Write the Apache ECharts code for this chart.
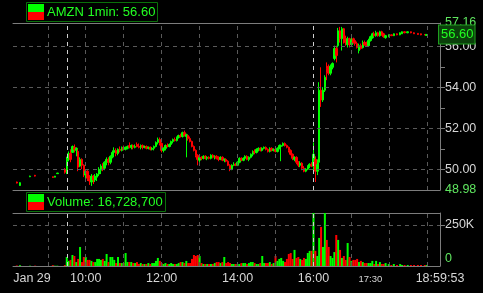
<!DOCTYPE html>
<html>
<head>
<meta charset="utf-8">
<script src="https://cdn.jsdelivr.net/npm/echarts@6.0.0/dist/echarts.min.js"></script>
<style>
html,body{margin:0;padding:0;background:#000;}
#c{width:483px;height:293px;}
</style>
</head>
<body>
<div id="c"></div>
<script>
// rows: [time, open, close, low, high, volume (thousands)]
const preMarket = [
  ['08:11', 49.37, 49.32, 49.30, 49.39, 3],
  ['08:16', 49.20, 49.34, 49.18, 49.36, 5],
  ['08:32', 49.63, 49.66, 49.61, 49.68, 2],
  ['08:40', 49.70, 49.66, 49.64, 49.72, 2],
  ['09:08', 49.63, 49.59, 49.57, 49.64, 5],
  ['09:11', 49.61, 49.66, 49.60, 49.67, 2],
  ['09:15', 49.78, 49.81, 49.77, 49.82, 2],
  ['09:27', 50.00, 49.85, 49.78, 50.05, 6]
];
const morning = [
  ['09:30', 49.90, 50.48, 49.76, 50.61, 55],
  ['09:33', 50.48, 50.77, 50.39, 50.87, 31],
  ['09:36', 50.77, 50.48, 50.34, 50.97, 37],
  ['09:39', 50.82, 51.11, 50.82, 51.16, 67],
  ['09:42', 51.07, 50.97, 50.82, 51.21, 61],
  ['09:45', 50.92, 51.02, 50.63, 51.07, 24],
  ['09:48', 50.87, 50.10, 49.90, 50.97, 43],
  ['09:51', 50.15, 50.48, 50.10, 50.58, 116],
  ['09:54', 50.48, 50.19, 50.00, 50.53, 24],
  ['09:57', 50.19, 49.81, 49.61, 50.24, 55],
  ['10:00', 49.71, 49.90, 49.52, 50.00, 55],
  ['10:03', 49.90, 49.56, 49.42, 49.95, 37],
  ['10:06', 49.56, 49.42, 49.23, 49.71, 37],
  ['10:09', 49.37, 49.66, 49.18, 49.76, 31],
  ['10:12', 49.66, 49.47, 49.27, 49.71, 24],
  ['10:15', 49.47, 49.66, 49.37, 49.76, 24],
  ['10:18', 49.61, 49.76, 49.42, 49.81, 43],
  ['10:21', 49.76, 50.00, 49.66, 50.10, 43],
  ['10:24', 49.95, 50.15, 49.76, 50.24, 37],
  ['10:27', 50.15, 50.00, 49.90, 50.29, 43],
  ['10:30', 50.05, 50.34, 49.95, 50.39, 31],
  ['10:33', 50.34, 50.48, 50.19, 50.58, 73],
  ['10:36', 50.48, 50.34, 50.19, 50.58, 24],
  ['10:39', 50.34, 50.63, 50.24, 50.68, 55],
  ['10:42', 50.63, 50.82, 50.53, 50.92, 55],
  ['10:45', 50.82, 50.92, 50.58, 51.07, 37],
  ['10:48', 50.92, 50.77, 50.63, 51.02, 18],
  ['10:51', 50.77, 50.97, 50.68, 51.02, 55],
  ['10:54', 50.97, 50.92, 50.82, 51.11, 18],
  ['10:57', 50.92, 51.07, 50.87, 51.11, 18],
  ['11:00', 51.07, 50.97, 50.92, 51.16, 18],
  ['11:03', 50.97, 51.07, 50.92, 51.11, 79],
  ['11:06', 51.02, 51.11, 50.97, 51.16, 24],
  ['11:09', 51.16, 51.07, 51.02, 51.31, 24],
  ['11:12', 51.07, 51.16, 50.97, 51.21, 24],
  ['11:15', 51.16, 51.07, 50.97, 51.21, 18],
  ['11:18', 51.07, 51.11, 51.02, 51.21, 18],
  ['11:21', 51.21, 51.11, 51.07, 51.31, 24],
  ['11:24', 51.11, 51.07, 51.02, 51.26, 12],
  ['11:27', 51.07, 51.16, 50.97, 51.21, 18],
  ['11:30', 51.16, 51.07, 50.97, 51.21, 12],
  ['11:33', 51.07, 51.11, 51.02, 51.16, 12],
  ['11:36', 51.11, 51.02, 50.97, 51.16, 12],
  ['11:39', 51.02, 51.07, 50.97, 51.11, 18],
  ['11:42', 51.07, 50.97, 50.92, 51.11, 12],
  ['11:45', 50.97, 51.02, 50.92, 51.07, 18],
  ['11:48', 51.02, 51.11, 50.92, 51.16, 18],
  ['11:51', 51.11, 51.31, 51.07, 51.36, 31],
  ['11:54', 51.31, 51.45, 51.21, 51.55, 49],
  ['11:57', 51.45, 51.26, 51.16, 51.55, 31]
];
const midday = [
  ['12:00', 51.26, 50.92, 50.82, 51.31, 18],
  ['12:03', 50.92, 51.02, 50.82, 51.07, 12],
  ['12:06', 51.02, 51.16, 50.92, 51.21, 18],
  ['12:09', 51.16, 51.11, 51.07, 51.26, 12],
  ['12:12', 51.11, 51.21, 51.07, 51.26, 12],
  ['12:15', 51.21, 51.36, 51.16, 51.40, 18],
  ['12:18', 51.36, 51.45, 51.26, 51.50, 12],
  ['12:21', 51.45, 51.40, 51.36, 51.55, 12],
  ['12:24', 51.40, 51.55, 51.36, 51.60, 12],
  ['12:27', 51.55, 51.65, 51.50, 51.69, 18],
  ['12:30', 51.65, 51.60, 51.55, 51.74, 24],
  ['12:33', 51.60, 51.79, 51.55, 51.84, 24],
  ['12:36', 51.79, 51.65, 51.60, 51.89, 18],
  ['12:39', 51.60, 51.69, 50.58, 51.74, 31],
  ['12:42', 51.65, 51.50, 51.40, 51.69, 18],
  ['12:45', 51.50, 51.36, 51.31, 51.60, 18],
  ['12:48', 51.36, 51.11, 51.07, 51.40, 43],
  ['12:51', 51.11, 50.92, 50.87, 51.16, 67],
  ['12:54', 50.92, 50.68, 50.58, 50.97, 61],
  ['12:57', 50.68, 50.48, 50.19, 50.73, 67],
  ['13:00', 50.44, 50.58, 50.24, 50.63, 61],
  ['13:03', 50.58, 50.53, 50.44, 50.63, 18],
  ['13:06', 50.53, 50.63, 50.48, 50.68, 12],
  ['13:09', 50.63, 50.53, 50.48, 50.68, 12],
  ['13:12', 50.53, 50.58, 50.44, 50.63, 12],
  ['13:15', 50.58, 50.53, 50.48, 50.63, 12],
  ['13:18', 50.53, 50.68, 50.48, 50.73, 12],
  ['13:21', 50.68, 50.58, 50.53, 50.73, 12],
  ['13:24', 50.58, 50.63, 50.48, 50.68, 18],
  ['13:27', 50.63, 50.53, 50.48, 50.68, 24],
  ['13:30', 50.58, 50.48, 50.39, 50.63, 24],
  ['13:33', 50.48, 50.58, 50.44, 50.63, 18],
  ['13:36', 50.58, 50.44, 50.39, 50.63, 24],
  ['13:39', 50.44, 50.48, 50.34, 50.53, 55],
  ['13:42', 50.48, 50.39, 50.34, 50.53, 18],
  ['13:45', 50.39, 50.19, 50.15, 50.44, 24],
  ['13:48', 50.19, 50.00, 49.90, 50.24, 18],
  ['13:51', 50.00, 50.19, 49.95, 50.24, 12],
  ['13:54', 50.19, 50.24, 50.15, 50.34, 12],
  ['13:57', 50.24, 50.19, 50.15, 50.29, 12]
];
const afternoon = [
  ['14:00', 50.19, 50.34, 50.15, 50.39, 12],
  ['14:03', 50.34, 50.53, 50.29, 50.58, 12],
  ['14:06', 50.53, 50.44, 50.39, 50.58, 18],
  ['14:09', 50.44, 50.53, 50.39, 50.58, 18],
  ['14:12', 50.53, 50.63, 50.44, 50.68, 18],
  ['14:15', 50.63, 50.48, 50.44, 50.68, 12],
  ['14:18', 50.48, 50.58, 50.39, 50.63, 18],
  ['14:21', 50.58, 50.73, 50.53, 50.77, 24],
  ['14:24', 50.73, 50.87, 50.63, 50.92, 24],
  ['14:27', 50.87, 50.82, 50.73, 50.97, 18],
  ['14:30', 50.82, 50.97, 50.77, 51.02, 12],
  ['14:33', 50.97, 51.02, 50.87, 51.07, 12],
  ['14:36', 51.02, 50.92, 50.87, 51.07, 18],
  ['14:39', 50.92, 51.02, 50.87, 51.07, 61],
  ['14:42', 51.02, 51.07, 50.97, 51.11, 18],
  ['14:45', 51.07, 50.97, 50.92, 51.11, 18],
  ['14:48', 50.97, 50.87, 50.82, 51.02, 18],
  ['14:51', 50.87, 51.02, 50.82, 51.07, 24],
  ['14:54', 51.02, 50.92, 50.87, 51.07, 12],
  ['14:57', 50.92, 50.97, 50.87, 51.02, 18],
  ['15:00', 50.97, 50.87, 50.82, 51.02, 61],
  ['15:03', 50.87, 51.02, 50.82, 51.07, 31],
  ['15:06', 51.02, 51.16, 50.97, 51.21, 43],
  ['15:09', 51.11, 51.16, 50.39, 51.21, 49],
  ['15:12', 51.16, 51.26, 51.11, 51.31, 31],
  ['15:15', 51.26, 51.16, 51.11, 51.31, 24],
  ['15:18', 51.16, 51.07, 51.02, 51.21, 43],
  ['15:21', 51.07, 50.92, 50.82, 51.11, 73],
  ['15:24', 50.92, 50.73, 50.68, 50.97, 79],
  ['15:27', 50.73, 50.53, 50.44, 50.77, 43],
  ['15:30', 50.48, 50.58, 50.39, 50.63, 98],
  ['15:33', 50.58, 50.34, 50.24, 50.63, 49],
  ['15:36', 50.34, 50.19, 50.10, 50.39, 55],
  ['15:39', 50.19, 50.29, 50.10, 50.39, 43],
  ['15:42', 50.29, 50.05, 49.95, 50.34, 37],
  ['15:45', 50.05, 49.90, 49.85, 50.15, 49],
  ['15:48', 49.90, 50.00, 49.85, 50.05, 43],
  ['15:51', 50.00, 50.15, 49.95, 50.19, 79],
  ['15:54', 50.15, 50.24, 50.05, 50.29, 92],
  ['15:57', 50.24, 50.15, 50.10, 50.34, 92]
];
const afterHours = [
  ['16:00', 50.15, 50.73, 49.85, 51.31, 323],
  ['16:03', 50.48, 49.90, 49.37, 50.63, 92],
  ['16:06', 49.90, 50.24, 49.71, 50.48, 61],
  ['16:09', 50.34, 53.87, 50.10, 54.26, 171],
  ['16:12', 53.87, 53.39, 53.05, 54.99, 238],
  ['16:15', 53.39, 53.87, 53.29, 54.02, 116],
  ['16:18', 53.87, 54.50, 53.78, 54.60, 323],
  ['16:21', 54.94, 54.75, 54.36, 55.23, 159],
  ['16:24', 55.04, 54.70, 54.60, 55.13, 116],
  ['16:27', 54.70, 55.04, 54.60, 55.13, 61],
  ['16:30', 54.99, 55.18, 54.89, 55.23, 49],
  ['16:33', 55.42, 55.91, 55.33, 56.05, 85],
  ['16:36', 55.91, 55.57, 55.23, 56.05, 189],
  ['16:39', 56.05, 56.78, 55.96, 56.92, 159],
  ['16:42', 56.78, 56.39, 56.20, 56.97, 98],
  ['16:45', 56.39, 56.88, 55.81, 56.97, 49],
  ['16:48', 56.88, 56.39, 56.15, 56.92, 61],
  ['16:51', 56.39, 56.20, 56.05, 56.54, 37],
  ['16:54', 56.10, 56.39, 55.96, 56.49, 140],
  ['16:57', 56.39, 56.10, 55.96, 56.44, 55],
  ['17:00', 56.10, 56.34, 56.05, 56.44, 31],
  ['17:03', 56.39, 56.20, 56.15, 56.44, 37],
  ['17:06', 56.30, 56.15, 56.05, 56.34, 37],
  ['17:09', 56.15, 55.96, 55.91, 56.25, 43],
  ['17:12', 55.81, 56.05, 55.67, 56.15, 24],
  ['17:15', 56.05, 55.91, 55.86, 56.15, 31],
  ['17:18', 55.96, 56.20, 55.91, 56.30, 24],
  ['17:21', 56.20, 56.10, 56.05, 56.30, 18],
  ['17:24', 56.20, 56.05, 56.00, 56.25, 18],
  ['17:27', 56.05, 56.30, 56.00, 56.39, 18],
  ['17:30', 56.30, 56.49, 56.25, 56.54, 18],
  ['17:33', 56.44, 56.63, 56.39, 56.68, 31],
  ['17:36', 56.63, 56.54, 56.49, 56.73, 12],
  ['17:39', 56.54, 56.68, 56.49, 56.78, 31],
  ['17:42', 56.68, 56.54, 56.49, 56.73, 12],
  ['17:45', 56.54, 56.73, 56.49, 56.78, 24],
  ['17:48', 56.73, 56.58, 56.54, 56.78, 12],
  ['17:51', 56.63, 56.49, 56.44, 56.68, 12],
  ['17:54', 56.44, 56.54, 56.39, 56.58, 18]
];
const evening = [
  ['17:59', 56.49, 56.58, 56.46, 56.60, 12],
  ['18:03', 56.58, 56.54, 56.52, 56.60, 6],
  ['18:07', 56.54, 56.63, 56.52, 56.65, 12],
  ['18:12', 56.63, 56.58, 56.56, 56.65, 6],
  ['18:17', 56.58, 56.68, 56.56, 56.70, 12],
  ['18:20', 56.63, 56.73, 56.62, 56.75, 6],
  ['18:24', 56.73, 56.68, 56.66, 56.75, 6],
  ['18:29', 56.68, 56.73, 56.66, 56.75, 6],
  ['18:34', 56.73, 56.68, 56.66, 56.74, 6],
  ['18:39', 56.68, 56.63, 56.62, 56.70, 6],
  ['18:45', 56.65, 56.60, 56.58, 56.66, 6],
  ['18:50', 56.63, 56.58, 56.56, 56.64, 6],
  ['18:56', 56.60, 56.58, 56.56, 56.62, 6],
  ['18:59', 56.55, 56.60, 56.54, 56.62, 6]
];

const xStart = '08:05';
const xEnd = '19:20';
const xLabelAt = ['08:35', '10:00', '12:00', '14:00', '16:00', '17:30', '19:20'];
const xLabels = ['Jan 29', '10:00', '12:00', '14:00', '16:00', '17:30', '18:59:53'];
const hourGrid = ['09:00', '10:00', '11:00', '12:00', '13:00', '14:00', '15:00', '17:00', '18:00', '19:00'];
const sessionLines = ['09:30', '16:00'];

const priceMin = 48.98, priceMax = 57.16;
const priceLabels = [48.98, 50, 52, 54, 56, 57.16];
const priceTicks = [50, 51, 52, 53, 54, 55, 56];
const priceGrid = [50, 52, 54, 56];
const lastPrice = 56.60;

const volMax = 323;
const volLabels = [0, 250];
const volGrid = [250];

const titlePrice = 'AMZN 1min: 56.60';
const titleVolume = 'Volume: 16,728,700';

// ---------------------------------------------------------------
const UP = '#00ff00', DOWN = '#ff0000';
const GRIDC = '#5a5a5a', AXISC = '#7c7c7c', LABELC = '#d6d6d6', LGREEN = '#5fe65f';
const FONT = '"Liberation Sans", Arial, sans-serif';
function toMin(s) { const p = s.split(':'); return +p[0] * 60 + (+p[1]); }
function near(a, b) { return Math.abs(a - b) < 1e-6; }

const rows = [].concat(preMarket, morning, midday, afternoon, afterHours, evening);
const candleData = rows.map(r => [toMin(r[0]), r[1], r[2], r[3], r[4]]);
const volumeData = rows.map(r => ({ value: [toMin(r[0]), r[5]], itemStyle: { color: r[2] >= r[1] ? UP : DOWN } }));

const xMin = toMin(xStart), xMax = toMin(xEnd);
const xLabelMins = xLabelAt.map(toMin);

function xAxisBase(grid, pos, withLabels) {
  return {
    type: 'value', gridIndex: grid, min: xMin, max: xMax, position: pos,
    axisLine: { show: true, onZero: false, lineStyle: { color: AXISC, width: 1 } },
    axisTick: { show: false }, splitLine: { show: false },
    axisLabel: withLabels ? {
      show: true, customValues: xLabelMins, color: LABELC, fontSize: 12.5, fontFamily: FONT, margin: 6,
      formatter: function (v) {
        let i = -1;
        xLabelMins.forEach((m, k) => { if (near(m, v)) i = k; });
        const t = i >= 0 ? xLabels[i] : '';
        return near(v, toMin('17:30')) ? '{s|' + t + '}' : t;
      },
      rich: { s: { fontSize: 9.5, color: LABELC, fontFamily: FONT, padding: [2, 0, 0, 0] } }
    } : { show: false }
  };
}

function vLines(times, color, xi, yi) {
  return {
    type: 'line', xAxisIndex: xi, yAxisIndex: yi, data: [], z: 1, silent: true,
    markLine: {
      silent: true, symbol: 'none', animation: false, label: { show: false },
      lineStyle: { type: [4, 4], color: color, width: 1 },
      data: times.map(t => ({ xAxis: toMin(t) }))
    }
  };
}
function hLines(values, xi, yi) {
  return {
    type: 'line', xAxisIndex: xi, yAxisIndex: yi, data: [], z: 1, silent: true,
    markLine: {
      silent: true, symbol: 'none', animation: false, label: { show: false },
      lineStyle: { type: [4, 4], color: GRIDC, width: 1 },
      data: values.map(v => ({ yAxis: v }))
    }
  };
}

function legendBox(x, y, w, h, text) {
  return {
    type: 'group', x: 0, y: 0, silent: true,
    children: [
      { type: 'rect', shape: { x: x + 0.5, y: y + 0.5, width: w, height: h }, style: { fill: '#000', stroke: '#0a700a', lineWidth: 1 } },
      { type: 'rect', shape: { x: x + 2, y: y + 2, width: 16, height: 8 }, style: { fill: UP } },
      { type: 'rect', shape: { x: x + 2, y: y + 10, width: 16, height: 8 }, style: { fill: DOWN } },
      { type: 'text', x: x + 21, y: y + h / 2 + 1, style: { text: text, fill: '#22ff22', font: '13px ' + FONT, verticalAlign: 'middle', align: 'left' } }
    ]
  };
}

const chart = echarts.init(document.getElementById('c'), null, { renderer: 'canvas' });
chart.setOption({
  backgroundColor: '#000',
  animation: false,
  grid: [
    { left: 13, top: 23, width: 427, height: 167 },
    { left: 13, top: 213, width: 427, height: 53 }
  ],
  xAxis: [
    xAxisBase(0, 'bottom', false),
    xAxisBase(1, 'bottom', true),
    xAxisBase(0, 'top', false),
    xAxisBase(1, 'top', false)
  ],
  yAxis: [
    {
      type: 'value', gridIndex: 0, position: 'right', min: priceMin, max: priceMax,
      axisLine: { show: true, lineStyle: { color: AXISC } },
      axisTick: { show: true, length: 5, customValues: priceTicks, lineStyle: { color: AXISC } },
      splitLine: { show: false },
      axisLabel: {
        customValues: priceLabels, color: LABELC, fontSize: 12.5, fontFamily: FONT, margin: 5,
        formatter: function (v) {
          const s = (+v).toFixed(2);
          return (near(v, priceMin) || near(v, priceMax)) ? '{g|' + s + '}' : '{w|' + s + '}';
        },
        rich: {
          g: { color: LGREEN, fontSize: 12.5, fontFamily: FONT },
          w: { color: LABELC, fontSize: 12.5, fontFamily: FONT }
        }
      }
    },
    {
      type: 'value', gridIndex: 1, position: 'right', min: 0, max: volMax,
      axisLine: { show: true, lineStyle: { color: AXISC } },
      axisTick: { show: true, length: 5, customValues: volGrid, lineStyle: { color: AXISC } },
      splitLine: { show: false },
      axisLabel: {
        customValues: volLabels, color: LABELC, fontSize: 12.5, fontFamily: FONT, margin: 5,
        formatter: function (v) { return near(v, 0) ? '{z|0}' : '{n|' + v + 'K}'; },
        rich: {
          z: { color: LGREEN, fontSize: 12.5, fontFamily: FONT, padding: [0, 0, 14, 0] },
          n: { color: LABELC, fontSize: 12.5, fontFamily: FONT }
        }
      }
    }
  ],
  series: [
    vLines(hourGrid, GRIDC, 0, 0),
    vLines(sessionLines, '#cfcfcf', 0, 0),
    hLines(priceGrid, 0, 0),
    vLines(hourGrid, GRIDC, 1, 1),
    vLines(sessionLines, '#cfcfcf', 1, 1),
    hLines(volGrid, 1, 1),
    {
      type: 'candlestick', xAxisIndex: 0, yAxisIndex: 0, z: 3,
      data: candleData, encode: { x: 0, y: [1, 2, 3, 4] },
      barWidth: 2,
      itemStyle: { color: UP, color0: DOWN, borderColor: UP, borderColor0: DOWN, borderWidth: 1 },
      markLine: {
        silent: true, symbol: 'none', animation: false,
        lineStyle: { color: 'rgba(0,0,0,0)', width: 0 },
        label: {
          show: true, position: 'end', distance: -1, formatter: lastPrice.toFixed(2),
          color: '#22ff22', fontSize: 13, fontFamily: FONT,
          backgroundColor: '#0b400b', borderColor: '#1f9f1f', borderWidth: 1, padding: [3, 1, 2, 2]
        },
        data: [{ yAxis: lastPrice }]
      }
    },
    {
      type: 'bar', xAxisIndex: 1, yAxisIndex: 1, z: 3,
      data: volumeData, barWidth: 2
    }
  ],
  graphic: [
    legendBox(26, 2, 131, 19, titlePrice),
    legendBox(26, 192, 139, 19, titleVolume)
  ]
});
</script>
</body>
</html>
